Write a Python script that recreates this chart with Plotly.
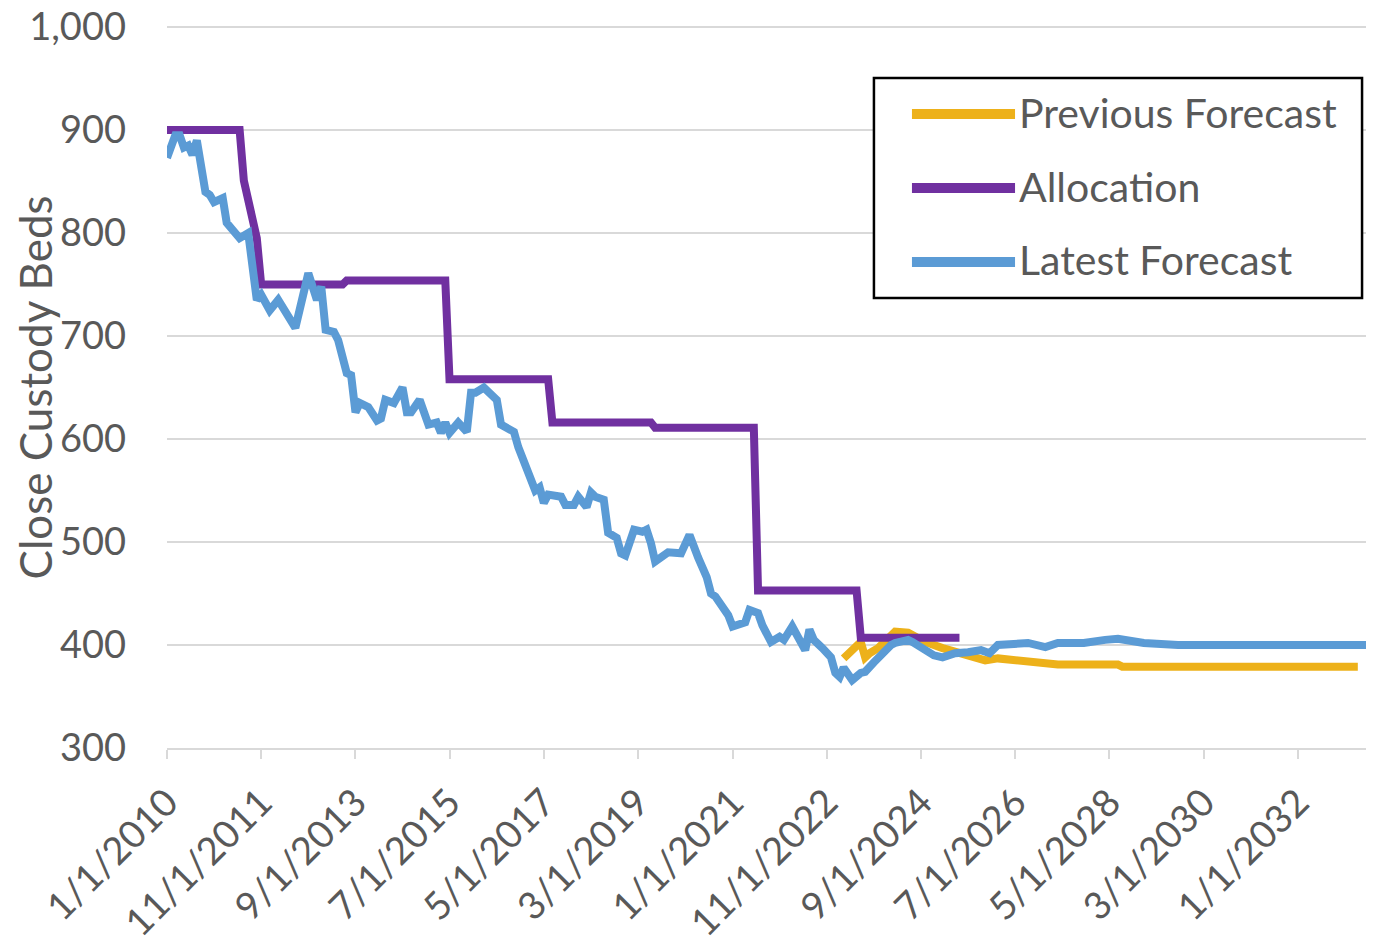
import plotly.graph_objects as go

# ---------------- data ----------------
series_names = ["Previous Forecast", "Allocation", "Latest Forecast"]
series_colors = ["#EDB11A", "#7030A0", "#5B9BD5"]

latest_dates = [
    "2010-01-01", "2010-02-01", "2010-03-01", "2010-04-01", "2010-05-01", "2010-06-01",
    "2010-07-01", "2010-08-01", "2010-09-01", "2010-10-01", "2010-11-01", "2010-12-01",
    "2011-02-01", "2011-03-01", "2011-05-01", "2011-06-01", "2011-08-01", "2011-10-01",
    "2011-11-01", "2012-01-01", "2012-03-01", "2012-07-01", "2012-10-01", "2012-12-01",
    "2013-01-01", "2013-02-01", "2013-04-01", "2013-05-01", "2013-07-01", "2013-08-01",
    "2013-09-01", "2013-10-01", "2013-12-01", "2014-02-01", "2014-03-01", "2014-04-01",
    "2014-06-01", "2014-08-01", "2014-09-01", "2014-10-01", "2014-12-01", "2015-02-01",
    "2015-04-01", "2015-05-01", "2015-06-01", "2015-07-01", "2015-09-01", "2015-11-01",
    "2015-12-01", "2016-01-01", "2016-03-01", "2016-05-01", "2016-06-01", "2016-07-01",
    "2016-10-01", "2016-11-01", "2017-01-01", "2017-02-01", "2017-03-01", "2017-04-01",
    "2017-05-01", "2017-06-01", "2017-09-01", "2017-10-01", "2017-12-01", "2018-01-01",
    "2018-03-01", "2018-04-01", "2018-05-01", "2018-07-01", "2018-08-01", "2018-10-01",
    "2018-11-01", "2018-12-01", "2019-02-01", "2019-04-01", "2019-05-01", "2019-06-01",
    "2019-07-01", "2019-10-01", "2019-11-01", "2020-01-01", "2020-03-01", "2020-04-01",
    "2020-05-01", "2020-07-01", "2020-08-01", "2020-09-01", "2020-10-01", "2020-12-01",
    "2021-01-01", "2021-02-01", "2021-04-01", "2021-05-01", "2021-07-01", "2021-08-01",
    "2021-10-01", "2021-12-01", "2022-01-01", "2022-03-01", "2022-05-01", "2022-06-01",
    "2022-07-01", "2022-08-01", "2022-10-01", "2022-12-01", "2023-01-01", "2023-02-01",
    "2023-03-01", "2023-04-01", "2023-05-01", "2023-07-01", "2023-08-01", "2023-10-01",
    "2023-12-01", "2024-02-01", "2024-03-01", "2024-06-01", "2024-07-01", "2024-10-01",
    "2024-12-01", "2025-02-01", "2025-05-01", "2025-08-01", "2025-11-01", "2026-01-01",
    "2026-03-01", "2026-10-01", "2027-02-01", "2027-05-01", "2027-11-01", "2028-04-01",
    "2028-07-01", "2029-01-01", "2029-09-01", "2033-06-01",
]
latest_values = [
    873, 887, 895, 895, 883, 885,
    876, 890, 858, 840, 837, 830,
    834, 810, 800, 795, 800, 735,
    740, 725, 735, 708, 761, 735,
    748, 706, 704, 696, 664, 662,
    626, 635, 631, 618, 620, 638,
    635, 650, 626, 626, 638, 614,
    616, 606, 616, 606, 616, 607,
    645, 645, 650, 641, 638, 614,
    607, 592, 570, 562, 550, 553,
    538, 546, 544, 536, 536, 544,
    534, 548, 544, 541, 509, 504,
    489, 487, 512, 510, 512, 499,
    481, 490, 489, 489, 507, 495,
    485, 466, 450, 447, 441, 429,
    418, 419, 422, 434, 431, 419,
    403, 408, 405, 418, 403, 395,
    415, 405, 397, 388, 373, 369,
    378, 373, 366, 373, 374, 383,
    392, 400, 402, 405, 403, 395,
    390, 388, 392, 393, 395, 392,
    400, 402, 398, 402, 402, 405,
    406, 402, 400, 400,
]

allocation_dates = [
    "2010-01-01", "2011-06-01", "2011-07-01", "2011-09-01", "2011-10-01", "2011-11-01",
    "2013-06-01", "2013-07-01", "2015-06-01", "2015-07-01", "2017-06-01", "2017-07-01",
    "2019-06-01", "2019-07-01", "2021-06-01", "2021-07-01", "2023-06-01", "2023-07-01",
    "2025-06-01",
]
allocation_values = [
    900, 900, 851, 815, 795, 750,
    750, 754, 754, 658, 658, 616,
    616, 611, 611, 453, 453, 407,
    407,
]

previous_dates = [
    "2023-03-01", "2023-06-01", "2023-07-01", "2023-08-01", "2023-09-01", "2023-11-01",
    "2024-03-01", "2024-06-01", "2024-10-01", "2025-02-01", "2025-08-01", "2025-12-01",
    "2026-03-01", "2026-09-01", "2027-05-01", "2028-07-01", "2028-08-01", "2033-03-01",
]
previous_values = [
    387, 398, 403, 388, 392, 397,
    413, 412, 403, 397, 390, 385,
    387, 384, 381, 381, 379, 379,
]

x_tick_dates = ["2010-01-01", "2011-11-01", "2013-09-01", "2015-07-01", "2017-05-01",
                "2019-03-01", "2021-01-01", "2022-11-01", "2024-09-01", "2026-07-01",
                "2028-05-01", "2030-03-01", "2032-01-01"]
x_tick_labels = ["1/1/2010", "11/1/2011", "9/1/2013", "7/1/2015", "5/1/2017",
                 "3/1/2019", "1/1/2021", "11/1/2022", "9/1/2024", "7/1/2026",
                 "5/1/2028", "3/1/2030", "1/1/2032"]
y_ticks = [300, 400, 500, 600, 700, 800, 900, 1000]
y_title = "Close Custody Beds"

# ---------------- figure ----------------
FONT = "Lato"
TXT = "#595959"
GRID = "#D9D9D9"
LW = 8

fig = go.Figure()
for name, color, xs, ys in zip(series_names, series_colors,
                               [previous_dates, allocation_dates, latest_dates],
                               [previous_values, allocation_values, latest_values]):
    fig.add_trace(go.Scatter(x=xs, y=ys, mode="lines", name=name,
                             line=dict(color=color, width=LW),
                             showlegend=False))

# the page adds an 8px body margin, so the figure is sized 8px smaller
fig.update_layout(
    width=1366, height=928,
    margin=dict(l=159, r=0, t=17, b=188),
    paper_bgcolor="white", plot_bgcolor="white",
    font=dict(family=FONT, size=38, color=TXT),
)
fig.update_xaxes(
    type="date", range=["2010-01-01", "2033-06-24"],
    tickvals=x_tick_dates, ticktext=x_tick_labels, tickangle=-45,
    showgrid=False, zeroline=False,
    showline=True, linecolor=GRID, linewidth=2,
    ticks="outside", ticklen=9, tickwidth=2, tickcolor=GRID,
    ticklabelstandoff=6, ticklabeloverflow="allow",
    tickfont=dict(family=FONT, size=38, color=TXT),
    automargin=False,
)
# range top slightly above 1,000 so the 1,000 gridline is not clipped at the edge
fig.update_yaxes(
    range=[300, 1002], tickvals=y_ticks, tickformat=",",
    showgrid=True, gridcolor=GRID, gridwidth=2, zeroline=False,
    showline=False, ticks="", ticklabelstandoff=40, ticklabeloverflow="allow",
    tickfont=dict(family=FONT, size=38, color=TXT),
    automargin=False,
)

# plot-area height is 723 px here (vs 721 before) -> paper coords rescaled
H = 723.0
def py(page_y):
    return (748 - page_y) / H

# y-axis title
fig.add_annotation(text=y_title, xref="paper", yref="paper", x=-0.1094, y=py(387.5),
                   xanchor="center", yanchor="middle", textangle=-90, showarrow=False,
                   font=dict(family=FONT, size=44, color=TXT))

# legend box (drawn to match the reference's long line samples)
fig.add_shape(type="rect", xref="paper", yref="paper",
              x0=0.5857, x1=0.9901, y0=py(298), y1=py(78),
              line=dict(color="black", width=2.5), fillcolor="white", layer="above")
legend_rows = [114, 188, 262]
for name, color, row in zip(series_names, series_colors, legend_rows):
    fig.add_shape(type="line", xref="paper", yref="paper",
                  x0=0.6172, x1=0.7026, y0=py(row), y1=py(row),
                  line=dict(color=color, width=10), layer="above")
    fig.add_annotation(text=name, xref="paper", yref="paper", x=0.7043, y=py(row - 2),
                       xanchor="left", yanchor="middle", showarrow=False,
                       font=dict(family=FONT, size=41, color=TXT))

fig.write_html("out.html")
